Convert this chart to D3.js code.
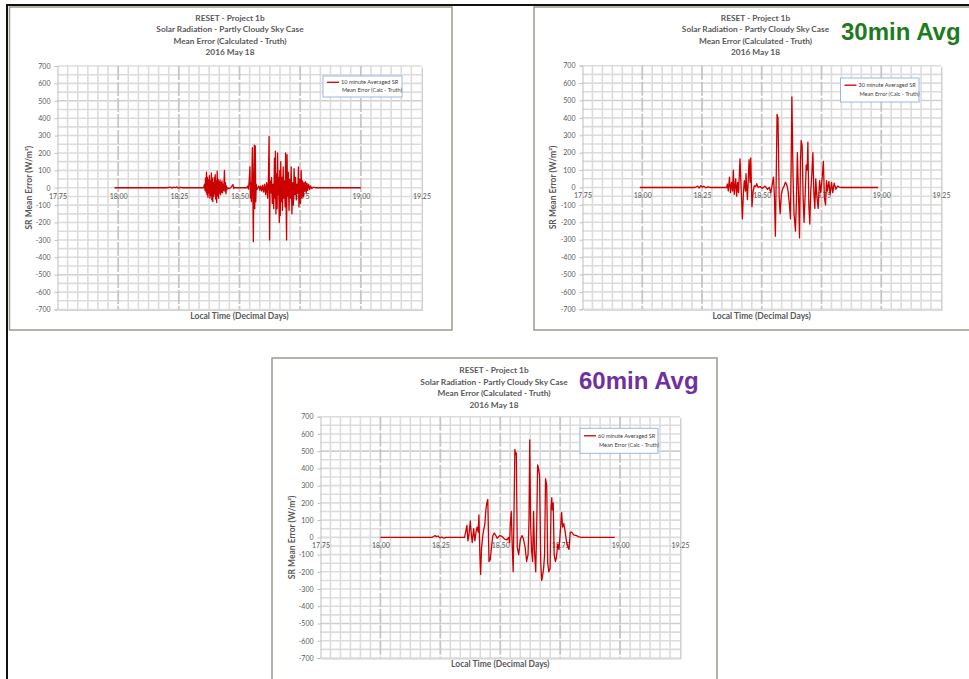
<!DOCTYPE html>
<html><head><meta charset="utf-8">
<script src="https://cdn.jsdelivr.net/npm/d3@7"></script>
<style>
body{margin:0;background:#fff;}
svg{display:block;}
text{font-family:Lato,"Open Sans",sans-serif;}
</style></head>
<body>
<svg id="c" width="969" height="679"></svg>
<script>
// ---------- DATA ----------
const xTicks = [17.75, 18.00, 18.25, 18.50, 18.75, 19.00, 19.25];
const yTicks = [700, 600, 500, 400, 300, 200, 100, 0, -100, -200, -300, -400, -500, -600, -700];
const titleLines = ["RESET - Project 1b", "Solar Radiation - Partly Cloudy Sky Case", "Mean Error (Calculated - Truth)", "2016 May 18"];
const yAxisTitle = "SR Mean Error (W/m\u00B2)";
const xAxisTitle = "Local Time (Decimal Days)";
const legend10 = ["10 minute  Averaged SR", "Mean Error (Calc - Truth)"];
const legend30 = ["30 minute Averaged SR", "Mean Error (Calc - Truth)"];
const legend60 = ["60 minute Averaged SR", "Mean Error (Calc - Truth)"];
const badge30 = "30min Avg";
const badge60 = "60min Avg";

const time10 = [17.985,18.200,18.215,18.222,18.228,18.236,18.242,18.248,18.255,18.265,18.352,
 18.356,18.358,18.360,18.362,18.364,18.366,18.368,18.370,18.372,18.374,18.376,18.378,18.380,18.382,18.384,18.386,18.388,18.390,18.392,18.394,18.396,18.398,18.400,18.402,18.404,18.406,18.408,18.410,18.412,18.414,18.416,18.418,18.420,18.422,18.424,18.426,18.428,18.430,18.432,18.434,18.436,18.438,18.440,18.442,18.444,18.446,18.448,18.452,18.458,18.464,18.470,18.473,18.476,18.480,18.486,
 18.530,18.534,18.537,18.540,18.543,18.545,18.547,18.549,18.551,18.553,18.555,18.557,18.559,18.561,18.563,18.565,18.567,18.569,18.572,18.576,18.580,18.584,18.588,18.592,18.596,18.600,18.604,18.608,18.612,18.616,18.619,18.622,18.624,18.626,18.629,18.632,18.635,18.638,18.641,18.644,18.646,18.648,18.650,18.652,18.655,18.657,18.659,18.661,18.664,18.666,18.668,18.670,18.672,18.675,18.677,18.680,18.682,18.685,18.688,18.690,18.692,18.694,18.696,18.698,18.701,18.704,18.707,18.710,18.713,18.716,18.719,18.722,18.725,18.728,18.731,18.734,18.737,18.740,18.743,18.745,18.748,18.751,18.754,18.757,18.760,18.763,18.766,18.769,18.772,18.775,18.778,18.781,18.785,18.789,18.793,18.798,18.805,18.812,19.000];
const err10 = [0,0,3,-2,4,0,5,-3,2,0,0,
 20,-15,55,-25,90,-40,60,-55,45,-30,70,-60,40,-45,85,-70,55,-80,30,-50,60,-35,75,-65,40,-85,95,-45,50,-60,35,-30,45,-40,30,-25,40,-30,20,-15,25,100,-20,30,-35,10,-10,0,-5,0,12,18,-5,2,0,
 0,10,-8,40,120,-60,30,-80,60,230,-40,-310,20,245,-120,240,-80,20,-10,0,10,-15,10,-20,15,-25,20,-40,30,-60,40,295,-300,40,-30,60,-90,20,-120,170,-60,210,-150,80,-120,200,-40,60,-200,100,-160,150,-80,60,-130,120,-60,40,-110,200,-100,-300,190,-50,90,-130,50,-60,120,-150,30,-100,110,-40,60,-70,20,-30,120,-110,50,-90,100,-60,40,-50,30,-20,35,-30,25,-15,20,-10,10,-5,3,0,0];

const time30 = [17.990,18.220,18.232,18.238,18.245,18.252,18.258,18.265,18.275,18.285,18.350,
 18.353,18.356,18.360,18.365,18.369,18.374,18.378,18.381,18.385,18.391,18.395,18.399,18.403,18.409,18.413,18.419,18.423,18.427,18.432,18.434,18.440,18.444,18.447,18.451,18.454,18.459,18.464,18.469,18.475,18.479,18.485,18.493,18.503,18.514,18.524,18.532,
 18.538,18.543,18.549,18.553,18.557,18.561,18.564,18.568,18.573,18.577,18.582,18.587,18.594,18.599,18.605,18.610,18.616,18.620,18.624,18.626,18.631,18.635,18.641,18.645,18.649,18.654,18.658,18.662,18.665,18.669,18.673,18.677,18.682,18.686,18.690,18.693,18.697,18.701,18.705,18.709,18.714,18.718,18.722,18.726,18.730,18.736,18.742,18.747,18.753,18.758,18.762,18.767,18.771,18.775,18.781,18.786,18.792,18.797,18.803,18.810,18.817,18.825,18.835,18.987];
const err30 = [0,0,8,-3,10,2,8,-2,3,0,0,
 0,20,-20,60,-30,30,-20,100,-40,50,-50,30,-30,165,20,-180,-40,40,-20,80,-70,60,160,30,170,-110,-20,10,5,22,0,5,-5,8,-10,0,
 -30,10,60,-50,-280,100,420,400,-60,-150,-40,-10,10,30,15,-20,-100,-180,250,520,60,-150,-250,-80,200,-50,-290,150,270,240,-50,-200,-30,130,100,260,-100,-210,-20,60,200,-30,-120,50,-40,-120,40,-30,60,150,-60,-100,40,-20,35,-40,30,-30,25,-10,8,2,0,0];

const time60 = [18.000,18.215,18.222,18.228,18.234,18.240,18.248,18.256,18.265,18.275,18.348,
 18.351,18.357,18.361,18.365,18.369,18.375,18.379,18.383,18.389,18.394,18.400,18.404,18.408,18.411,18.415,18.418,18.422,18.428,18.432,18.436,18.440,18.444,18.448,18.453,18.458,18.464,18.469,18.475,18.480,18.487,18.497,18.508,18.518,18.528,18.535,
 18.539,18.542,18.546,18.550,18.554,18.557,18.561,18.564,18.567,18.571,18.577,18.584,18.591,18.597,18.604,18.610,18.616,18.620,18.623,18.627,18.631,18.635,18.639,18.643,18.648,18.652,18.656,18.660,18.664,18.669,18.673,18.677,18.681,18.685,18.689,18.694,18.698,18.703,18.708,18.712,18.715,18.717,18.721,18.725,18.730,18.734,18.740,18.745,18.751,18.756,18.760,18.765,18.770,18.776,18.781,18.787,18.792,18.798,18.806,18.818,18.829,18.838,18.978];
const err60 = [0,0,5,10,4,8,-3,2,-5,0,0,
 0,40,70,-20,10,95,20,-30,50,-20,40,60,30,130,-100,-215,-60,20,50,80,160,200,220,-140,-130,-50,10,25,15,-5,10,5,-10,-15,0,
 -30,80,150,-50,-200,100,510,480,490,-60,-100,-10,10,-10,-60,-140,-100,100,565,60,-80,-140,150,-80,-200,50,420,400,360,-150,-250,-220,-180,-100,340,300,-150,-200,-180,180,230,160,200,-100,-140,-120,-40,-70,40,145,60,80,40,-20,-50,-70,30,30,15,10,3,0,0];

// ---------- LAYOUT ----------
const panels = [
  {time: time10, err: err10, legend: legend10,
   frame: {x: 9.5, y: 7, w: 442.5, h: 323},
   plot: {x0: 57.5, x1: 421.5, y0: 66, y1: 309.5},
   titleX: 230, titleY: 20.5, yTitleX: 29.5, xTitleY: 318.5,
   leg: {x: 323, y: 76, w: 79, h: 21}},
  {time: time30, err: err30, legend: legend30, badge: badge30, badgeColor: "#1e7b1e",
   frame: {x: 534, y: 7, w: 440, h: 323},
   plot: {x0: 582.5, x1: 941, y0: 65.7, y1: 309.3},
   titleX: 755.5, titleY: 20.5, yTitleX: 553.5, xTitleY: 318.5,
   leg: {x: 840.5, y: 78, w: 78.5, h: 24},
   badgeX: 841, badgeY: 39.5},
  {time: time60, err: err60, legend: legend60, badge: badge60, badgeColor: "#7030a0",
   frame: {x: 272, y: 358, w: 445, h: 330},
   plot: {x0: 320.5, x1: 680, y0: 416.7, y1: 658},
   titleX: 494, titleY: 373, yTitleX: 292.5, xTitleY: 667,
   leg: {x: 580, y: 428.3, w: 78, h: 25},
   badgeX: 579, badgeY: 388.5}
];

const svg = d3.select("#c");
svg.append("rect").attr("width", 969).attr("height", 679).attr("fill", "#fff");

// outer black frame lines
svg.append("line").attr("x1", 6).attr("x2", 969).attr("y1", 5).attr("y2", 5)
  .attr("stroke", "#111").attr("stroke-width", 2);
svg.append("line").attr("x1", 7).attr("x2", 7).attr("y1", 4).attr("y2", 679)
  .attr("stroke", "#111").attr("stroke-width", 2);

const textGray = "#595959";

panels.forEach(p => {
  const g = svg.append("g");
  g.append("rect").attr("x", p.frame.x).attr("y", p.frame.y).attr("width", p.frame.w).attr("height", p.frame.h)
    .attr("fill", "#fff").attr("stroke", "#9a9a8e").attr("stroke-width", 1.5);

  const x = d3.scaleLinear().domain([17.75, 19.25]).range([p.plot.x0, p.plot.x1]);
  const y = d3.scaleLinear().domain([-700, 700]).range([p.plot.y1, p.plot.y0]);

  // plot area shadow
  g.append("rect").attr("x", p.plot.x0 + 1.5).attr("y", p.plot.y0 + 1.5)
    .attr("width", p.plot.x1 - p.plot.x0).attr("height", p.plot.y1 - p.plot.y0)
    .attr("fill", "#d0d0d0");
  g.append("rect").attr("x", p.plot.x0).attr("y", p.plot.y0)
    .attr("width", p.plot.x1 - p.plot.x0).attr("height", p.plot.y1 - p.plot.y0)
    .attr("fill", "#fff");

  // gridlines
  const hVals = d3.range(-700, 701, 50);
  g.append("g").selectAll("line").data(hVals).join("line")
    .attr("x1", p.plot.x0).attr("x2", p.plot.x1)
    .attr("y1", d => y(d)).attr("y2", d => y(d))
    .attr("stroke", d => d % 500 === 0 && d !== 0 ? "#cfcfcf" : "#dcdcdc").attr("stroke-width", 1.6);
  const vIdx = d3.range(0, 37);
  g.append("g").selectAll("line").data(vIdx.filter(i => i % 6 !== 0)).join("line")
    .attr("x1", i => x(17.75 + i / 24)).attr("x2", i => x(17.75 + i / 24))
    .attr("y1", p.plot.y0).attr("y2", p.plot.y1)
    .attr("stroke", "#dcdcdc").attr("stroke-width", 1.6);
  g.append("g").selectAll("line").data(xTicks.slice(1, -1)).join("line")
    .attr("x1", d => x(d)).attr("x2", d => x(d))
    .attr("y1", p.plot.y0).attr("y2", p.plot.y1)
    .attr("stroke", "#c6c6c6").attr("stroke-width", 1.8).attr("stroke-dasharray", "14,2");

  // y axis
  const ya = g.append("g").attr("transform", `translate(${p.plot.x0},0)`)
    .call(d3.axisLeft(y).tickValues(yTicks).tickSize(3).tickPadding(4).tickFormat(d => String(d)));
  ya.select(".domain").attr("stroke", "#bfbfbf");
  ya.selectAll(".tick line").attr("stroke", "#bfbfbf");
  ya.selectAll("text").attr("fill", textGray).style("font-size", "7px").style("font-family", "Lato");

  // x axis labels along zero line
  const xa = g.append("g").attr("transform", `translate(0,${y(0)})`)
    .call(d3.axisBottom(x).tickValues(xTicks).tickSize(0).tickPadding(6).tickFormat(d3.format(".2f")));
  xa.select(".domain").remove();
  xa.selectAll("text").attr("fill", textGray).style("font-size", "7px").style("font-family", "Lato");

  // data line
  const pts = p.time.map((t, i) => [t, p.err[i]]);
  g.append("path").datum(pts)
    .attr("fill", "none").attr("stroke", "#cc0000").attr("stroke-width", 1.3)
    .attr("stroke-linejoin", "round")
    .attr("d", d3.line().x(d => x(d[0])).y(d => y(d[1])));

  // title
  g.append("g").selectAll("text").data(titleLines).join("text")
    .attr("x", p.titleX).attr("y", (d, i) => p.titleY + i * 11.5)
    .attr("text-anchor", "middle").attr("fill", textGray)
    .style("font-size", "8.3px").style("font-weight", 700)
    .text(d => d);

  // axis titles
  g.append("text").attr("transform", `translate(${p.yTitleX},${(p.plot.y0 + p.plot.y1) / 2}) rotate(-90)`)
    .attr("text-anchor", "middle").attr("dy", "0.35em").attr("fill", textGray)
    .style("font-size", "8.5px").style("font-weight", 700).text(yAxisTitle);
  g.append("text").attr("x", (p.plot.x0 + p.plot.x1) / 2).attr("y", p.xTitleY)
    .attr("text-anchor", "middle").attr("fill", textGray)
    .style("font-size", "8.5px").style("font-weight", 700).text(xAxisTitle);

  // legend
  const L = p.leg;
  g.append("rect").attr("x", L.x).attr("y", L.y).attr("width", L.w).attr("height", L.h)
    .attr("fill", "#fff").attr("stroke", "#9bb7e0").attr("stroke-width", 1);
  const ly1 = L.y + L.h * 0.3, ly2 = L.y + L.h * 0.65;
  g.append("line").attr("x1", L.x + 4).attr("x2", L.x + 16).attr("y1", ly1).attr("y2", ly1)
    .attr("stroke", "#cc0000").attr("stroke-width", 1.3);
  g.append("g").selectAll("text").data(p.legend).join("text")
    .attr("x", (d, i) => L.x + 18 + i * 1).attr("y", (d, i) => i === 0 ? ly1 : ly2)
    .attr("dy", "0.35em").attr("fill", "#404040")
    .style("font-size", "5.6px").text(d => d);

  // badge
  if (p.badge) {
    g.append("text").attr("x", p.badgeX).attr("y", p.badgeY)
      .attr("fill", p.badgeColor)
      .style("font-family", "'Liberation Sans', Arial, sans-serif")
      .style("font-size", "24px").style("font-weight", 700).text(p.badge);
  }
});
</script>
</body></html>
